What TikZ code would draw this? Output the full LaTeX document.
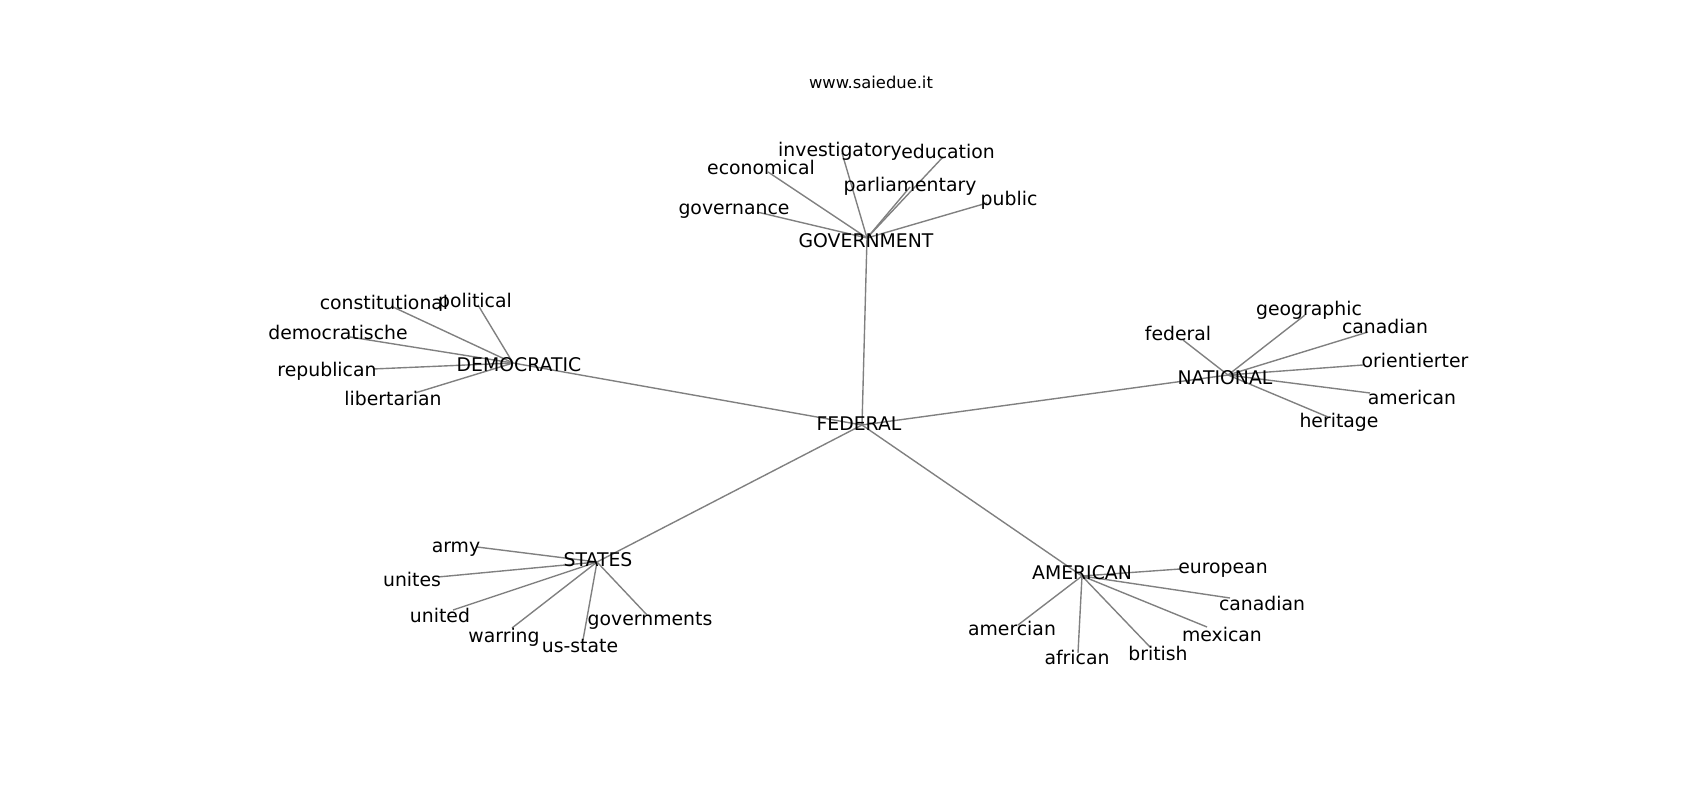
\documentclass[tikz,border=0pt]{standalone}
\usepackage{fontspec}
\setmainfont{DejaVu Sans}
\usetikzlibrary{backgrounds}
\tikzset{
  lbl/.style={inner sep=0pt, text height=0.7em, text depth=0pt, yshift=-2.2pt, font=\fontsize{13.6}{16}\selectfont},
  ttl/.style={inner sep=0pt, text height=0.7em, text depth=0pt, yshift=-1pt, font=\fontsize{11.8}{14}\selectfont},
  edge/.style={draw=black!50, line width=1pt}
}
\begin{document}
\begin{tikzpicture}[x=0.01in,y=-0.01in]
\useasboundingbox (0,0) rectangle (1700,800);
\node[ttl] (title) at (871,82) {www.saiedue.it};
% node positions
\coordinate (pFED) at (862,425);
\coordinate (pGOV) at (867,238);
\coordinate (pDEM) at (513,363);
\coordinate (pNAT) at (1228,375);
\coordinate (pSTA) at (597,562);
\coordinate (pAME) at (1082,576);
% government leaves
\coordinate (pinv) at (842,153);
\coordinate (pedu) at (943,157);
\coordinate (peco) at (768,172);
\coordinate (ppar) at (910,187);
\coordinate (pgovn) at (757,212);
\coordinate (ppub) at (987,203);
% democratic leaves
\coordinate (pcon) at (393,307);
\coordinate (ppol) at (478,305);
\coordinate (pdms) at (350,337);
\coordinate (prep) at (373,369);
\coordinate (plib) at (415,393);
% national leaves
\coordinate (pfedl) at (1183,340);
\coordinate (pgeo) at (1305,315);
\coordinate (pcan1) at (1368,332);
\coordinate (pori) at (1363,365);
\coordinate (pamer) at (1370,393);
\coordinate (pher) at (1328,417);
% states leaves
\coordinate (parm) at (477,547);
\coordinate (puns) at (438,577);
\coordinate (putd) at (453,610);
\coordinate (pwar) at (512,628);
\coordinate (puss) at (583,640);
\coordinate (pgvs) at (647,615);
% american leaves
\coordinate (peur) at (1180,569);
\coordinate (pcan2) at (1230,598);
\coordinate (pmex) at (1207,627);
\coordinate (pbri) at (1150,647);
\coordinate (pafr) at (1078,653);
\coordinate (pamc) at (1018,625);
% labels
\node[lbl] (FED) at (859,423) {FEDERAL};
\node[lbl] (GOV) at (866,240) {GOVERNMENT};
\node[lbl] (DEM) at (519,364) {DEMOCRATIC};
\node[lbl] (NAT) at (1225,377) {NATIONAL};
\node[lbl] (STA) at (598,559) {STATES};
\node[lbl] (AME) at (1082,572) {AMERICAN};
\node[lbl] (inv) at (840,149) {investigatory};
\node[lbl] (edu) at (948,151) {education};
\node[lbl] (eco) at (761,167) {economical};
\node[lbl] (par) at (910,184) {parliamentary};
\node[lbl] (govn) at (734,207) {governance};
\node[lbl] (pub) at (1009,198) {public};
\node[lbl] (con) at (384,302) {constitutional};
\node[lbl] (pol) at (475,300) {political};
\node[lbl] (dms) at (338,332) {democratische};
\node[lbl] (rep) at (327,369) {republican};
\node[lbl] (lib) at (393,398) {libertarian};
\node[lbl] (fedl) at (1178,333) {federal};
\node[lbl] (geo) at (1309,308) {geographic};
\node[lbl] (can1) at (1385,326) {canadian};
\node[lbl] (ori) at (1415,360) {orientierter};
\node[lbl] (amer) at (1412,397) {american};
\node[lbl] (her) at (1339,420) {heritage};
\node[lbl] (arm) at (456,545) {army};
\node[lbl] (uns) at (412,579) {unites};
\node[lbl] (utd) at (440,615) {united};
\node[lbl] (war) at (504,635) {warring};
\node[lbl] (uss) at (580,645) {us-state};
\node[lbl] (gvs) at (650,618) {governments};
\node[lbl] (eur) at (1223,566) {european};
\node[lbl] (can2) at (1262,603) {canadian};
\node[lbl] (mex) at (1222,634) {mexican};
\node[lbl] (bri) at (1158,653) {british};
\node[lbl] (afr) at (1077,657) {african};
\node[lbl] (amc) at (1012,628) {amercian};
\begin{scope}[on background layer]
\fill[white] (0,0) rectangle (1700,800);
\draw[edge] (pFED) -- (pGOV);
\draw[edge] (pFED) -- (pDEM);
\draw[edge] (pFED) -- (pNAT);
\draw[edge] (pFED) -- (pSTA);
\draw[edge] (pFED) -- (pAME);
\foreach \l in {pinv,pedu,peco,ppar,pgovn,ppub} \draw[edge] (pGOV) -- (\l);
\foreach \l in {pcon,ppol,pdms,prep,plib} \draw[edge] (pDEM) -- (\l);
\foreach \l in {pfedl,pgeo,pcan1,pori,pamer,pher} \draw[edge] (pNAT) -- (\l);
\foreach \l in {parm,puns,putd,pwar,puss,pgvs} \draw[edge] (pSTA) -- (\l);
\foreach \l in {peur,pcan2,pmex,pbri,pafr,pamc} \draw[edge] (pAME) -- (\l);
\end{scope}
\end{tikzpicture}
\end{document}
